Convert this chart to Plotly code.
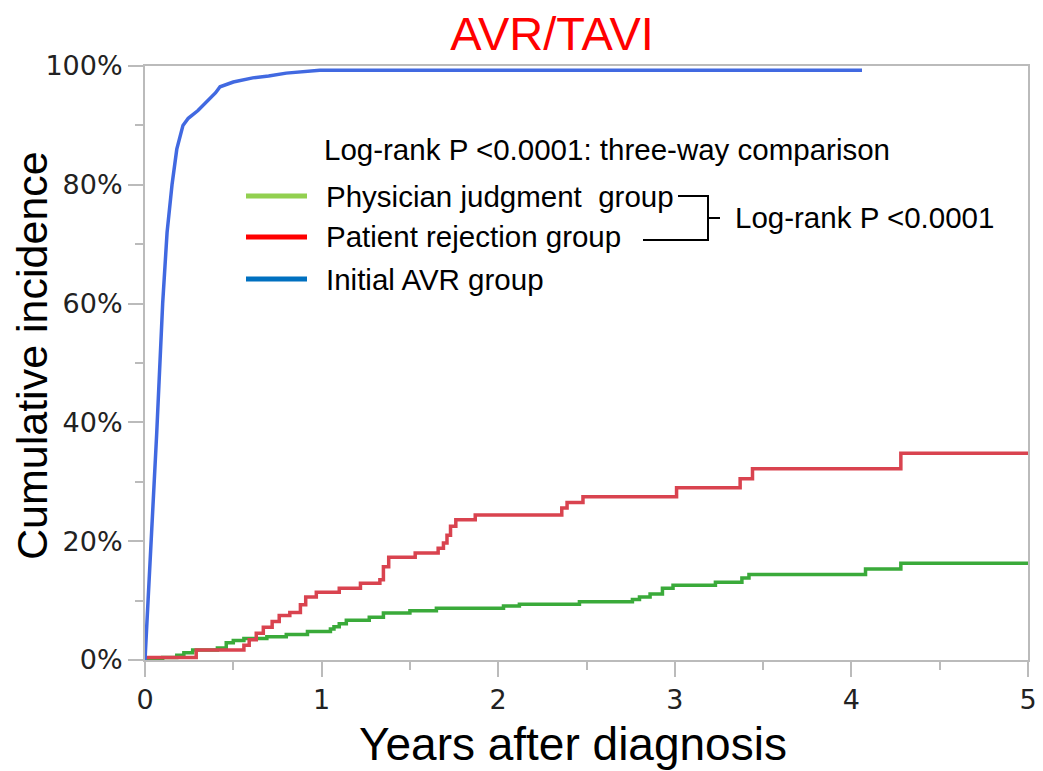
import plotly.graph_objects as go

# Cumulative incidence (%) of AVR/TAVI by years after diagnosis
initial_t = [0, 0.02, 0.04, 0.066, 0.10, 0.125, 0.153, 0.18, 0.215, 0.245, 0.30, 0.35,
             0.40, 0.425, 0.50, 0.61, 0.70, 0.80, 0.90, 0.99, 4.06]
initial_v = [0, 11, 21, 38, 60, 72, 80, 86, 90, 91.2, 92.5, 94,
             95.5, 96.5, 97.3, 98, 98.3, 98.8, 99.0, 99.3, 99.3]

patient_t = [0, 0.29, 0.56, 0.59, 0.63, 0.67, 0.72, 0.76, 0.82, 0.88, 0.91, 0.97,
             1.10, 1.22, 1.33, 1.35, 1.38, 1.53, 1.66, 1.69, 1.71, 1.73, 1.76, 1.87,
             2.36, 2.39, 2.48, 3.01, 3.37, 3.44, 4.28, 5.0]
patient_v = [0.4, 1.7, 2.5, 3.4, 4.5, 5.5, 6.5, 7.5, 8.0, 9.3, 10.6, 11.4,
             12.1, 12.9, 13.5, 15.7, 17.3, 18.0, 18.8, 19.7, 21.0, 22.5, 23.6, 24.4,
             25.6, 26.5, 27.5, 29.0, 30.5, 32.2, 34.8, 34.8]

physician_t = [0, 0.10, 0.18, 0.22, 0.27, 0.41, 0.46, 0.50, 0.56, 0.69, 0.80, 0.92,
               1.05, 1.07, 1.10, 1.14, 1.27, 1.35, 1.50, 1.65, 2.03, 2.12, 2.46, 2.76,
               2.80, 2.86, 2.93, 2.99, 3.23, 3.38, 3.42, 4.08, 4.28, 5.0]
physician_v = [0.2, 0.4, 0.8, 1.2, 1.7, 2.0, 2.9, 3.3, 3.6, 3.9, 4.3, 4.8,
               5.2, 5.6, 6.1, 6.7, 7.2, 7.9, 8.3, 8.7, 9.1, 9.4, 9.8, 10.2,
               10.6, 11.1, 12.1, 12.6, 13.1, 13.8, 14.4, 15.3, 16.3, 16.3]

legend_labels = ["Physician judgment  group", "Patient rejection group", "Initial AVR group"]
legend_colors = ["#92D050", "#FF0000", "#0070C0"]

W, H = 1043, 771
L, R, T, B = 145, 1028, 66, 660  # plot area in pixels


def px(x):
    return (x - L) / (R - L)


def py(y):
    return (B - y) / (B - T)


fig = go.Figure()
fig.add_trace(go.Scatter(x=physician_t, y=physician_v, mode="lines", line_shape="hv",
                         line=dict(color="#3AAA3A", width=3.5), showlegend=False))
fig.add_trace(go.Scatter(x=patient_t, y=patient_v, mode="lines", line_shape="hv",
                         line=dict(color="#D9434F", width=3.5), showlegend=False))
fig.add_trace(go.Scatter(x=initial_t, y=initial_v, mode="lines",
                         line=dict(color="#4169E1", width=3.5), showlegend=False))

txt_font = dict(family="Liberation Sans, Arial", size=29.5, color="black")
shapes = []
annotations = [
    dict(text="Log-rank P <0.0001: three-way comparison", x=px(322), y=py(149),
         xanchor="left", yanchor="middle"),
    dict(text="Log-rank P <0.0001", x=px(733), y=py(218), xanchor="left", yanchor="middle"),
]
for i, (lab, col) in enumerate(zip(legend_labels, legend_colors)):
    yy = [196, 237, 279][i]
    shapes.append(dict(type="line", xref="paper", yref="paper", x0=px(246), x1=px(307),
                       y0=py(yy), y1=py(yy), line=dict(color=col, width=5)))
    annotations.append(dict(text=lab, x=px(324), y=py(yy), xanchor="left", yanchor="middle"))
for a in annotations:
    a.update(xref="paper", yref="paper", showarrow=False, font=txt_font)

# bracket linking the two deferred groups
shapes.append(dict(type="path", xref="paper", yref="paper",
                   path=f"M {px(678)},{py(196)} L {px(708)},{py(196)} L {px(708)},{py(240)} L {px(643)},{py(240)}",
                   line=dict(color="black", width=2)))
shapes.append(dict(type="line", xref="paper", yref="paper", x0=px(708), x1=px(720),
                   y0=py(218), y1=py(218), line=dict(color="black", width=2)))

annotations.append(dict(text="Cumulative incidence", xref="paper", yref="paper",
                        x=px(32), y=py(356), textangle=-90, showarrow=False,
                        xanchor="center", yanchor="middle",
                        font=dict(family="Liberation Sans, Arial", size=43, color="black")))
annotations.append(dict(text="Years after diagnosis", xref="paper", yref="paper",
                        x=px(573), y=py(744), showarrow=False,
                        xanchor="center", yanchor="middle",
                        font=dict(family="Liberation Sans, Arial", size=46, color="black")))

tick_font = dict(family="DejaVu Sans", size=27, color="#222222")
axis_common = dict(showline=True, linecolor="#BBBBBB", linewidth=2, mirror=True,
                   showgrid=False, zeroline=False, ticks="outside", ticklen=15,
                   tickwidth=2, tickcolor="#BBBBBB", tickfont=tick_font, automargin=False,
                   ticklabeloverflow="allow")

fig.update_layout(
    width=W, height=H,
    margin=dict(l=L, r=W - R, t=T, b=H - B),
    paper_bgcolor="white", plot_bgcolor="white",
    title=dict(text="AVR/TAVI", x=552 / W, xanchor="center",
               y=1 - 34 / H, yanchor="middle", automargin=False,
               font=dict(family="Liberation Sans, Arial", size=47, color="#FF0000")),
    xaxis=dict(range=[0, 5], tickmode="linear", tick0=0, dtick=1,
               minor=dict(dtick=0.5, ticks="outside", ticklen=8, tickwidth=2, tickcolor="#BBBBBB"),
               **axis_common),
    yaxis=dict(range=[0, 100], tickmode="linear", tick0=0, dtick=20, ticksuffix="%",
               minor=dict(dtick=10, ticks="outside", ticklen=8, tickwidth=2, tickcolor="#BBBBBB"),
               **axis_common),
    shapes=shapes,
    annotations=annotations,
)

# drop the default page margin so the figure fills the window exactly
fig.write_html("out.html", config={"displayModeBar": False},
               post_script="document.body.style.margin='0';document.body.style.overflow='hidden';")
